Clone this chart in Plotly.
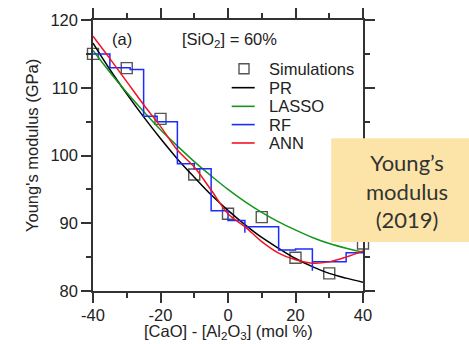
import plotly.graph_objects as go

# ---- data ----
sim_x = [-40, -30, -20, -10, 0, 10, 20, 30, 40]
sim_y = [115.0, 112.9, 105.4, 97.2, 91.4, 90.9, 84.9, 82.6, 87.0]

curve_x = [-40, -35, -30, -25, -20, -15, -10, -5, 0, 5, 10, 15, 20, 25, 30, 35, 40]
pr_y = [116.6, 112.7, 109.1, 105.7, 102.5, 99.5, 96.8, 94.2, 91.9, 89.8, 87.9, 86.3, 84.8, 83.6, 82.6, 81.9, 81.3]
lasso_y = [115.5, 112.3, 109.3, 106.5, 103.8, 101.4, 99.1, 97.0, 95.0, 93.2, 91.6, 90.2, 89.0, 87.9, 87.0, 86.3, 85.7]
ann_y = [117.6, 114.3, 110.9, 107.5, 104.3, 100.8, 98.3, 94.9, 91.4, 89.5, 87.3, 85.6, 84.6, 84.1, 84.3, 85.0, 85.9]

rf_x = [-40, -35, -29, -25, -21, -15, -10, -5, 0, 5, 5, 15, 20, 25, 25, 35, 40]
rf_y = [115.0, 112.95, 112.7, 105.8, 105.0, 98.8, 98.05, 91.85, 90.4, 88.6, 89.5, 86.05, 86.2, 83.0, 84.3, 85.65, 85.65]

x_ticks = [-40, -20, 0, 20, 40]
y_ticks = [80, 90, 100, 110, 120]

legend_names = ["Simulations", "PR", "LASSO", "RF", "ANN"]
line_colors = {"PR": "#000000", "LASSO": "#14961e", "RF": "#1a2cff", "ANN": "#f0141e"}

FONT = "Liberation Sans, Arial, Helvetica, sans-serif"
TXT = "#222222"
FS = 16.5

OFF = 0  # body margin removed below
W, H = 469, 344
L, T = 93.3, 19.5
PW, PH = 270, 271.5
R = W - L - PW
B = H - T - PH


def px_x(p):
    return (p - OFF - L) / PW


def px_y(p):
    return (H - B - (p - OFF)) / PH


fig = go.Figure()
fig.add_trace(go.Scatter(x=sim_x, y=sim_y, mode="markers", name="Simulations",
                         marker=dict(symbol="square-open", size=11, color="#555555",
                                     line=dict(width=1.4, color="#555555")),
                         cliponaxis=False, showlegend=False))
fig.add_trace(go.Scatter(x=curve_x, y=pr_y, mode="lines", name="PR", line_shape="spline",
                         line=dict(color=line_colors["PR"], width=1.5), showlegend=False))
fig.add_trace(go.Scatter(x=curve_x, y=lasso_y, mode="lines", name="LASSO", line_shape="spline",
                         line=dict(color=line_colors["LASSO"], width=1.5), showlegend=False))
fig.add_trace(go.Scatter(x=rf_x, y=rf_y, mode="lines", name="RF", line_shape="hv",
                         line=dict(color=line_colors["RF"], width=1.5), showlegend=False))
fig.add_trace(go.Scatter(x=curve_x, y=ann_y, mode="lines", name="ANN", line_shape="spline",
                         line=dict(color=line_colors["ANN"], width=1.5), showlegend=False))

axis_common = dict(showgrid=False, zeroline=False, showline=True, linecolor="#333333", linewidth=1.5,
                   mirror="allticks", ticks="outside", ticklen=10, tickwidth=1.5, tickcolor="#333333",
                   automargin=False,
                   tickfont=dict(family=FONT, size=FS, color=TXT))

fig.update_xaxes(range=[-40, 40], tickvals=x_ticks, ticktext=[str(v) for v in x_ticks],
                 minor=dict(ticks="outside", ticklen=5, tickwidth=1.5, tickcolor="#333333", dtick=10, showgrid=False),
                 ticklabelstandoff=-2,
                 **axis_common)
fig.update_yaxes(range=[80, 120], tickvals=y_ticks, ticktext=[str(v) for v in y_ticks],
                 minor=dict(ticks="outside", ticklen=5, tickwidth=1.5, tickcolor="#333333", dtick=5, showgrid=False),
                 **axis_common)

shapes = []
annotations = []
# axis titles
annotations.append(dict(text="[CaO] - [Al<sub>2</sub>O<sub>3</sub>] (mol %)", xref="paper", yref="paper",
                        x=px_x(228.3), y=px_y(332), xanchor="center", yanchor="middle", showarrow=False,
                        font=dict(family=FONT, size=FS, color=TXT)))
annotations.append(dict(text="Young's modulus (GPa)", xref="paper", yref="paper", textangle=-90,
                        x=px_x(33), y=px_y(145), xanchor="center", yanchor="middle", showarrow=False,
                        font=dict(family=FONT, size=FS, color=TXT)))
# manual legend (page pixel rows)
row_py = [68.3, 87.3, 106.0, 124.3, 142.7]
for name, py in zip(legend_names, row_py):
    yy = px_y(py)
    if name == "Simulations":
        shapes.append(dict(type="rect", xref="paper", yref="paper", xsizemode="pixel", ysizemode="pixel",
                           xanchor=px_x(244.3), yanchor=yy, x0=-5, x1=5, y0=-5, y1=5,
                           line=dict(color="#555555", width=1.4)))
    else:
        shapes.append(dict(type="line", xref="paper", yref="paper", x0=px_x(232), x1=px_x(255), y0=yy, y1=yy,
                           line=dict(color=line_colors[name], width=1.6)))
    annotations.append(dict(text=name, xref="paper", yref="paper", x=px_x(267), y=yy, xanchor="left",
                            yanchor="middle", showarrow=False, font=dict(family=FONT, size=FS, color=TXT)))

annotations.append(dict(text="(a)", xref="paper", yref="paper", x=px_x(122), y=px_y(39), showarrow=False,
                        xanchor="center", yanchor="middle", font=dict(family=FONT, size=FS, color=TXT)))
annotations.append(dict(text="[SiO<sub>2</sub>] = 60%", xref="paper", yref="paper", x=px_x(230), y=px_y(40),
                        showarrow=False, xanchor="center", yanchor="middle",
                        font=dict(family=FONT, size=FS, color=TXT)))

# yellow label box
shapes.append(dict(type="rect", xref="paper", yref="paper", x0=px_x(331.5), x1=px_x(475),
                   y0=px_y(242), y1=px_y(138),
                   fillcolor="#fce4a8", line=dict(width=0), layer="above"))
annotations.append(dict(text="Young’s<br>modulus<br>(2019)", xref="paper", yref="paper",
                        x=px_x(407), y=px_y(191), showarrow=False,
                        xanchor="center", yanchor="middle", align="center",
                        font=dict(family="Lato, Open Sans, sans-serif", size=22, color="#333333")))

fig.update_layout(width=W, height=H, autosize=False,
                  margin=dict(l=L, r=R, t=T, b=B),
                  paper_bgcolor="white", plot_bgcolor="white",
                  shapes=shapes, annotations=annotations, showlegend=False)

fig.write_html("out.html", config={"displayModeBar": False},
               post_script="document.body.style.margin='0';document.body.style.overflow='hidden';")
